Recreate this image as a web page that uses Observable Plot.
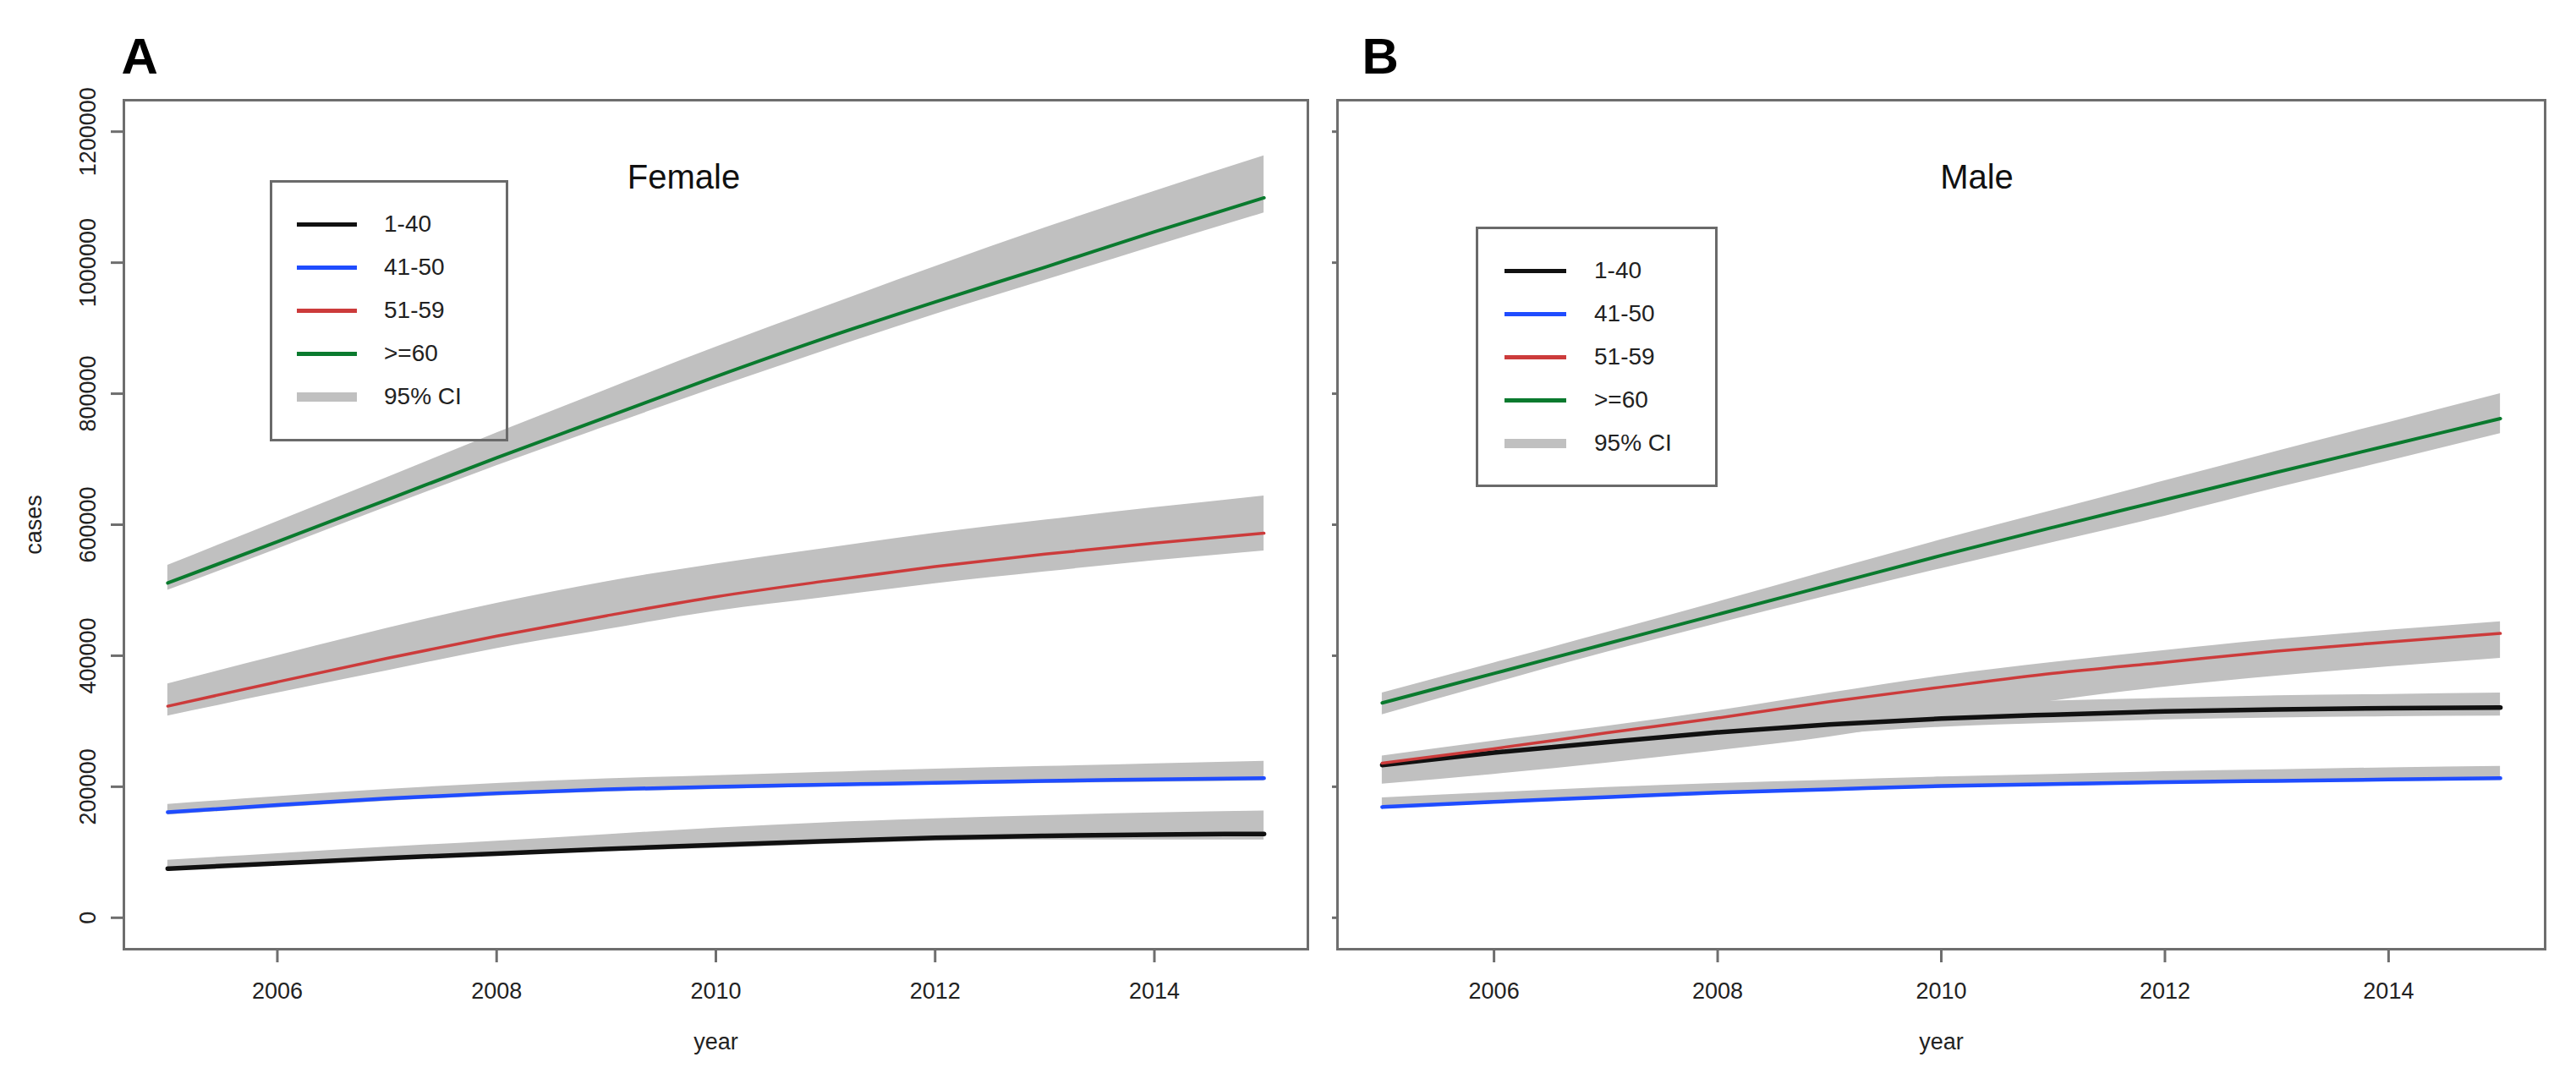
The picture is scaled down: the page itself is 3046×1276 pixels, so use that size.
<!DOCTYPE html>
<html>
<head>
<meta charset="utf-8">
<script src="https://cdn.jsdelivr.net/npm/d3@7"></script>
<script src="https://cdn.jsdelivr.net/npm/@observablehq/plot@0.6"></script>
<style>
  html, body { margin: 0; padding: 0; background: #fff; }
  #wrap { position: relative; width: 3046px; height: 1276px; overflow: hidden;
          font-family: "Liberation Sans", Arial, Helvetica, sans-serif; color: #222; }
  .panel { position: absolute; top: 0; }
  .legend { position: absolute; border: 3px solid #6a6a6a; box-sizing: border-box; }
  .legend .key { position: absolute; }
  .legend .lab { position: absolute; font-size: 28px; line-height: 28px; transform: translateY(-50%); color: #222; white-space: nowrap; }
</style>
</head>
<body>
<div id="wrap"></div>
<script>
// ---------------- data ----------------
const years = [2005, 2006, 2007, 2008, 2009, 2010, 2011, 2012, 2013, 2014, 2015];
const groups = ["1-40", "41-50", "51-59", ">=60"];
const ciLabel = "95% CI";
const xTicks = [2006, 2008, 2010, 2012, 2014];
const yTicks = [0, 200000, 400000, 600000, 800000, 1000000, 1200000];
const panelTitles = ["Female", "Male"];
const panelLetters = ["A", "B"];
const xLabel = "year";
const yLabel = "cases";

// Female (panel A)
const female140   = [75000, 83000, 91000, 98000, 105000, 111000, 117000, 122000, 125000, 127000, 128000];
const female140Lo = [72000, 80000, 88000, 95000, 101000, 106000, 112000, 117000, 119000, 119000, 119000];
const female140Hi = [88000, 98000, 108000, 117000, 127000, 137000, 145000, 151000, 156000, 160000, 163000];

const female4150   = [161000, 172000, 182000, 190000, 196000, 200000, 203000, 206000, 209000, 211000, 213000];
const female4150Lo = [157000, 168000, 178000, 186000, 192000, 196000, 200000, 203000, 205000, 207000, 209000];
const female4150Hi = [173000, 185000, 196000, 205000, 212000, 217000, 222000, 227000, 231000, 235000, 239000];

const female5159   = [323000, 360000, 396000, 430000, 461000, 490000, 514000, 536000, 555000, 572000, 587000];
const female5159Lo = [308000, 343000, 377000, 411000, 440000, 468000, 489000, 510000, 528000, 545000, 560000];
const female5159Hi = [357000, 400000, 442000, 480000, 513000, 540000, 564000, 587000, 607000, 626000, 644000];

const female60   = [511000, 574000, 638000, 702000, 764000, 826000, 885000, 940000, 993000, 1047000, 1099000];
const female60Lo = [500000, 563000, 627000, 690000, 750000, 809000, 866000, 921000, 973000, 1025000, 1076000];
const female60Hi = [538000, 605000, 672000, 740000, 806000, 871000, 933000, 994000, 1053000, 1109000, 1163000];

// Male (panel B)
const male140   = [233000, 252000, 268000, 283000, 295000, 304000, 310000, 315000, 318000, 320000, 321000];
const male140Lo = [224000, 240000, 254000, 267000, 280000, 291000, 297000, 302000, 305000, 307000, 308000];
const male140Hi = [243000, 264000, 283000, 298000, 312000, 324000, 331000, 335000, 339000, 341000, 343000];

const male4150   = [169000, 177000, 184000, 191000, 196000, 201000, 204000, 207000, 209000, 211000, 213000];
const male4150Lo = [166000, 174000, 181000, 188000, 193000, 198000, 201000, 204000, 206000, 208000, 210000];
const male4150Hi = [183000, 191000, 199000, 205000, 210000, 215000, 219000, 223000, 226000, 229000, 231000];

const male5159   = [236000, 258000, 282000, 305000, 330000, 352000, 373000, 390000, 407000, 421000, 434000];
const male5159Lo = [204000, 219000, 236000, 255000, 276000, 304000, 331000, 352000, 369000, 383000, 396000];
const male5159Hi = [247000, 270000, 292000, 316000, 343000, 369000, 390000, 408000, 425000, 439000, 452000];

const male60   = [328000, 373000, 418000, 463000, 508000, 553000, 596000, 638000, 680000, 721000, 762000];
const male60Lo = [310000, 358000, 405000, 449000, 492000, 533000, 573000, 613000, 656000, 697000, 739000];
const male60Hi = [343000, 389000, 435000, 482000, 530000, 577000, 622000, 667000, 712000, 756000, 800000];

// ---------------- styles ----------------
const lineColors = ["#111111", "#1f4cff", "#cc3b3b", "#0a7a2e"];
const lineWidths = [5.5, 4.5, 3.5, 4];
const bandColor = "#c0c0c0";
const axisColor = "#6e6e6e";
const textColor = "#222222";

function table(series) {
  // series: array of [line, lo, hi] in group order
  const rows = [];
  series.forEach(([line, lo, hi], gi) => {
    years.forEach((yr, i) => rows.push({group: groups[gi], year: yr, value: line[i], lo: lo[i], hi: hi[i]}));
  });
  return rows;
}

const femaleData = table([
  [female140, female140Lo, female140Hi],
  [female4150, female4150Lo, female4150Hi],
  [female5159, female5159Lo, female5159Hi],
  [female60, female60Lo, female60Hi]
]);
const maleData = table([
  [male140, male140Lo, male140Hi],
  [male4150, male4150Lo, male4150Hi],
  [male5159, male5159Lo, male5159Hi],
  [male60, male60Lo, male60Hi]
]);

function makePanel(data, cfg) {
  const marks = [];
  groups.forEach(g => {
    marks.push(Plot.areaY(data.filter(d => d.group === g), {
      x: "year", y1: "lo", y2: "hi", fill: bandColor, curve: "monotone-x"
    }));
  });
  groups.forEach((g, i) => {
    marks.push(Plot.line(data.filter(d => d.group === g), {
      x: "year", y: "value", stroke: lineColors[i], strokeWidth: lineWidths[i], curve: "monotone-x"
    }));
  });
  marks.push(Plot.frame({stroke: axisColor, strokeWidth: 3}));
  marks.push(Plot.axisX({
    ticks: xTicks, tickSize: 16, tickPadding: 23, tickFormat: d => String(d), label: null,
    stroke: axisColor, strokeWidth: 3, fill: textColor, fontSize: 27
  }));
  marks.push(Plot.axisY({
    ticks: yTicks, tickSize: cfg.yTickSize, tickFormat: () => "", label: null,
    stroke: axisColor, strokeWidth: 3
  }));
  if (cfg.yLabels) {
    marks.push(Plot.text(yTicks, {
      y: d => d, text: d => String(d), frameAnchor: "left", dx: -34, rotate: -90,
      textAnchor: "middle", lineAnchor: "bottom", fontSize: 27, fill: textColor
    }));
    marks.push(Plot.text([yLabel], {
      text: d => d, frameAnchor: "left", dx: -98, rotate: -90,
      textAnchor: "middle", lineAnchor: "bottom", fontSize: 27, fill: textColor
    }));
  }
  marks.push(Plot.text([xLabel], {
    text: d => d, frameAnchor: "bottom", dy: 118, textAnchor: "middle", lineAnchor: "bottom",
    fontSize: 27, fill: textColor
  }));
  marks.push(Plot.text([cfg.title], {
    text: d => d, frameAnchor: "top", dx: cfg.titleDx, dy: 104, textAnchor: "middle", lineAnchor: "bottom",
    fontSize: 40, fill: "#111"
  }));
  marks.push(Plot.text([cfg.letter], {
    text: d => d, frameAnchor: "top-left", dx: cfg.letterDx, dy: -32, textAnchor: "start", lineAnchor: "bottom",
    fontSize: 60, fontWeight: "bold", fill: "#000"
  }));
  return Plot.plot({
    width: cfg.width, height: 1276,
    marginLeft: cfg.marginLeft, marginRight: cfg.marginRight, marginTop: 118, marginBottom: 154,
    x: {domain: [2004.6, 2015.4]},
    y: {domain: [-48000, 1248000]},
    style: {fontFamily: "'Liberation Sans', Arial, Helvetica, sans-serif", fontSize: "27px",
            color: textColor, background: "transparent", overflow: "visible"},
    marks
  });
}

const wrap = document.getElementById("wrap");

const svgA = makePanel(femaleData, {
  width: 1560, marginLeft: 146, marginRight: 14, yTickSize: 15, yLabels: true,
  title: panelTitles[0], titleDx: -38, letter: panelLetters[0], letterDx: -3
});
svgA.classList.add("panel");
svgA.style.left = "0px";
wrap.appendChild(svgA);

const svgB = makePanel(maleData, {
  width: 1480, marginLeft: 15, marginRight: 37, yTickSize: 6, yLabels: false,
  title: panelTitles[1], titleDx: 42, letter: panelLetters[1], letterDx: 29
});
svgB.classList.add("panel");
svgB.style.left = "1566px";
wrap.appendChild(svgB);

// ---------------- legends ----------------
function makeLegend(box) {
  const el = document.createElement("div");
  el.className = "legend";
  el.style.left = box.left + "px";
  el.style.top = box.top + "px";
  el.style.width = box.width + "px";
  el.style.height = box.height + "px";
  const entries = groups.map((g, i) => ({label: g, color: lineColors[i], w: 5}))
    .concat([{label: ciLabel, color: bandColor, w: 11}]);
  entries.forEach((e, i) => {
    const cy = box.firstRow + i * box.rowGap;
    const key = document.createElement("div");
    key.className = "key";
    key.style.left = box.keyX + "px";
    key.style.width = box.keyW + "px";
    key.style.top = (cy - e.w / 2) + "px";
    key.style.height = e.w + "px";
    key.style.background = e.color;
    el.appendChild(key);
    const lab = document.createElement("div");
    lab.className = "lab";
    lab.style.left = box.textX + "px";
    lab.style.top = cy + "px";
    lab.textContent = e.label;
    el.appendChild(lab);
  });
  wrap.appendChild(el);
}
makeLegend({left: 319, top: 213, width: 282, height: 309, firstRow: 49, rowGap: 51, keyX: 29, keyW: 71, textX: 132});
makeLegend({left: 1745, top: 268, width: 286, height: 308, firstRow: 49, rowGap: 51, keyX: 31, keyW: 73, textX: 137});
</script>
</body>
</html>
